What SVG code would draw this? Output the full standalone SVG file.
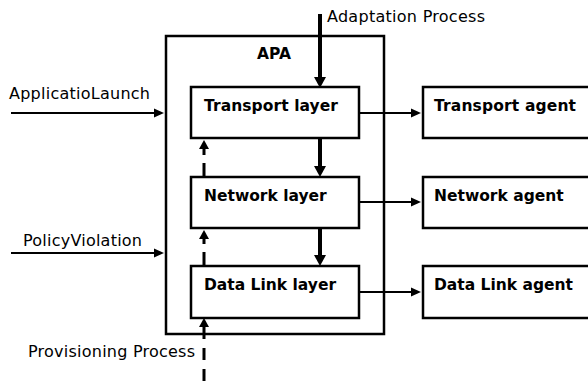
<svg xmlns="http://www.w3.org/2000/svg" width="588" height="381" viewBox="0 0 588 381">
  <style>
    .box { fill: #fff; stroke: #000; stroke-width: 2.5; }
    .lbl { font-family: "DejaVu Sans", "Liberation Sans", sans-serif; font-size: 16px; fill: #000; }
    .bold { font-family: "DejaVu Sans", "Liberation Sans", sans-serif; font-size: 15.5px; font-weight: bold; fill: #000; }
    .thin { fill: none; stroke: #000; stroke-width: 1.8; marker-end: url(#headThin); }
    .thick { fill: none; stroke: #000; stroke-width: 4; marker-end: url(#headThick); }
    .dash { fill: none; stroke: #000; stroke-width: 3; marker-end: url(#headDash); }
  </style>
  <defs>
    <marker id="headThin" markerUnits="userSpaceOnUse" markerWidth="10" markerHeight="9" refX="6" refY="4.5" orient="auto" overflow="visible">
      <path d="M0,0 L10,4.5 L0,9 z" fill="#000"/>
    </marker>
    <marker id="headThick" markerUnits="userSpaceOnUse" markerWidth="11" markerHeight="12" refX="4" refY="6" orient="auto" overflow="visible">
      <path d="M0,0 L11,6 L0,12 z" fill="#000"/>
    </marker>
    <marker id="headDash" markerUnits="userSpaceOnUse" markerWidth="9" markerHeight="10" refX="3" refY="5" orient="auto" overflow="visible">
      <path d="M0,0 L9,5 L0,10 z" fill="#000"/>
    </marker>
  </defs>

  <g id="apa">
    <rect class="box" x="166" y="36" width="218" height="298"/>
    <text class="bold" x="257" y="59">APA</text>
  </g>

  <g id="transport-layer">
    <rect class="box" x="191" y="87" width="168" height="51"/>
    <text class="bold" x="204" y="111" textLength="134">Transport layer</text>
  </g>
  <g id="network-layer">
    <rect class="box" x="191" y="177" width="168" height="51"/>
    <text class="bold" x="204" y="201">Network layer</text>
  </g>
  <g id="datalink-layer">
    <rect class="box" x="191" y="266" width="168" height="52"/>
    <text class="bold" x="204" y="290">Data Link layer</text>
  </g>

  <g id="transport-agent">
    <rect class="box" x="423" y="87" width="190" height="51"/>
    <text class="bold" x="434" y="111" textLength="142">Transport agent</text>
  </g>
  <g id="network-agent">
    <rect class="box" x="423" y="177" width="190" height="51"/>
    <text class="bold" x="434" y="201">Network agent</text>
  </g>
  <g id="datalink-agent">
    <rect class="box" x="423" y="266" width="190" height="52"/>
    <text class="bold" x="434" y="290">Data Link agent</text>
  </g>

  <g id="inputs">
    <text class="lbl" x="9" y="99" textLength="141">ApplicatioLaunch</text>
    <text class="lbl" x="23" y="246" textLength="119">PolicyViolation</text>
    <text class="lbl" x="327" y="22" textLength="158">Adaptation Process</text>
    <text class="lbl" x="28" y="357" textLength="167">Provisioning Process</text>
  </g>

  <g id="connectors">
    <!-- events into APA -->
    <path class="thin" d="M11,113 H160"/>
    <path class="thin" d="M11,253 H160"/>
    <!-- layers to agents -->
    <path class="thin" d="M359,113 H417"/>
    <path class="thin" d="M359,202 H417"/>
    <path class="thin" d="M359,292 H417"/>
    <!-- adaptation flows downward -->
    <path class="thick" d="M320,14 V81"/>
    <path class="thick" d="M320,138 V170"/>
    <path class="thick" d="M320,228 V259"/>
    <!-- provisioning flows upward -->
    <path class="dash" d="M204,381 V324" stroke-dasharray="12 9"/>
    <path class="dash" d="M204,266 V236" stroke-dasharray="14 8"/>
    <path class="dash" d="M204,177 V146" stroke-dasharray="14 8"/>
  </g>
</svg>
